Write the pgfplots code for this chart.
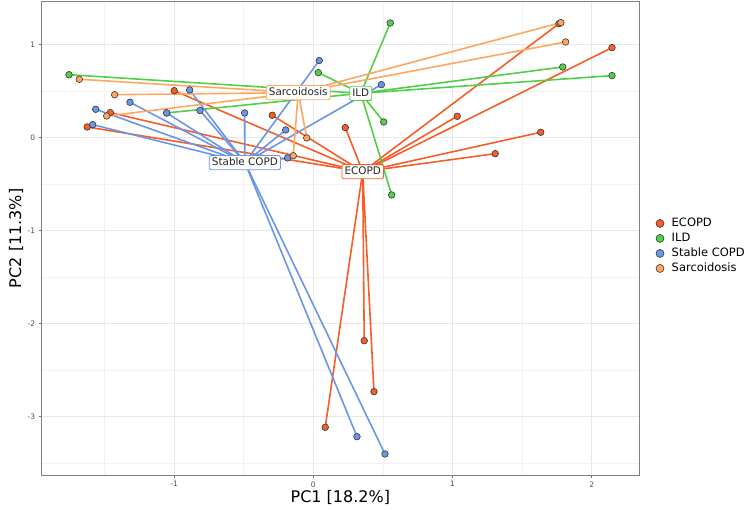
\documentclass[border=0pt]{standalone}
\usepackage{fontspec}
\setmainfont{DejaVu Sans}
\usepackage{pgfplots}
\pgfplotsset{compat=1.18}
\usepackage{pgfplotstable}
\definecolor{cE}{RGB}{248,93,40}
\definecolor{cI}{RGB}{82,206,72}
\definecolor{cS}{RGB}{106,150,232}
\definecolor{cO}{RGB}{255,166,96}
\definecolor{mk}{RGB}{55,55,55}
\definecolor{tk}{RGB}{77,77,77}

\pgfplotstableread{
x y
1.765 1.226
2.146 0.968
1.034 0.230
1.634 0.058
1.307 -0.172
0.230 0.108
-0.295 0.241
-0.999 0.505
-1.458 0.269
-1.624 0.115
0.366 -2.183
0.436 -2.731
0.086 -3.114
}\ecopd

\pgfplotstableread{
x y
-1.755 0.677
0.553 1.233
1.792 0.760
2.146 0.667
0.036 0.699
0.506 0.169
0.563 -0.616
-1.053 0.266
}\ild

\pgfplotstableread{
x y
-0.888 0.513
-1.317 0.381
-1.563 0.305
-1.585 0.140
-1.053 0.266
-0.814 0.292
-0.493 0.266
-0.198 0.083
-0.184 -0.218
0.043 0.830
0.489 0.570
0.314 -3.215
0.515 -3.401
}\stable

\pgfplotstableread{
x y
-1.681 0.628
-1.427 0.462
-1.484 0.233
-0.047 -0.003
-0.144 -0.194
1.779 1.237
1.813 1.029
}\sarc

\begin{document}
\begin{tikzpicture}[x=1pt,y=1pt]
\begin{axis}[
  at={(41.7pt,35pt)}, anchor=south west,
  scale only axis, width=597.3pt, height=473.3pt,
  xmin=-1.951, xmax=2.340, ymin=-3.627, ymax=1.462,
  clip=false,
  xtick={-1,0,1,2}, xticklabels={-1,0,1,2},
  ytick={-3,-2,-1,0,1}, yticklabels={-3,-2,-1,0,1},
  minor xtick={-1.5,-0.5,0.5,1.5},
  minor ytick={-3.5,-2.5,-1.5,-0.5,0.5},
  grid=both,
  major grid style={color=black!9, line width=0.6pt},
  minor grid style={color=black!5, line width=0.4pt},
  tick align=outside, xtick pos=left, ytick pos=left,
  major tick length=3pt, minor tick length=0pt,
  tick style={color=black!55, line width=0.6pt},
  axis line style={color=black!50, line width=0.9pt},
  ticklabel style={font=\fontsize{7.5}{9}\selectfont, text=tk},
  xlabel={PC1 [18.2\%]}, ylabel={PC2 [11.3\%]},
  every axis x label/.style={at={(axis description cs:0.5,0)}, anchor=center, yshift=-22pt, font=\fontsize{16}{18}\selectfont},
  every axis y label/.style={at={(axis description cs:0,0.5)}, anchor=center, rotate=90, yshift=25.7pt, font=\fontsize{16}{18}\selectfont},
  legend style={at={(axis description cs:1,0.5)}, anchor=west, xshift=17pt, yshift=-7.6pt,
    draw=none, fill=none, inner sep=0pt, outer sep=0pt, row sep=4pt,
    font=\fontsize{11.5}{13}\selectfont,
    nodes={inner sep=0pt, text height=8.5pt, text depth=2.5pt},
    /tikz/every odd column/.append style={column sep=7.7pt}},
  legend cell align=left,
  legend image code/.code={\draw[#1, mark size=4pt] plot coordinates {(0pt,0pt)};},
]
% segments to centroids
\addplot[forget plot, cE, line width=1.6pt, quiver={u={0.355-\thisrow{x}}, v={-0.366-\thisrow{y}}}] table[x=x,y=y] {\ecopd};
\addplot[forget plot, cI, line width=1.6pt, quiver={u={0.341-\thisrow{x}}, v={0.477-\thisrow{y}}}] table[x=x,y=y] {\ild};
\addplot[forget plot, cS, line width=1.6pt, quiver={u={-0.491-\thisrow{x}}, v={-0.269-\thisrow{y}}}] table[x=x,y=y] {\stable};
\addplot[forget plot, cO, line width=1.6pt, quiver={u={-0.108-\thisrow{x}}, v={0.484-\thisrow{y}}}] table[x=x,y=y] {\sarc};
% points
\addplot[only marks, mark=*, mark size=3.3pt, mark options={fill=cE, draw=mk, line width=0.6pt}] table[x=x,y=y] {\ecopd};
\addlegendentry{ECOPD}
\addplot[only marks, mark=*, mark size=3.3pt, mark options={fill=cI, draw=mk, line width=0.6pt}] table[x=x,y=y] {\ild};
\addlegendentry{ILD}
\addplot[only marks, mark=*, mark size=3.3pt, mark options={fill=cS, draw=mk, line width=0.6pt}] table[x=x,y=y] {\stable};
\addlegendentry{Stable COPD}
\addplot[only marks, mark=*, mark size=3.3pt, mark options={fill=cO, draw=mk, line width=0.6pt}] table[x=x,y=y] {\sarc};
\addlegendentry{Sarcoidosis}
% group labels
\tikzset{glab/.style={fill=white, line width=0.8pt, rounded corners=1.5pt, inner xsep=2.6pt, inner ysep=2pt,
  text height=7.8pt, text depth=2.4pt, text=black!85, font=\fontsize{10.4}{12}\selectfont}}
\node[glab, draw=cO] at (axis cs:-0.108,0.484) {Sarcoidosis};
\node[glab, draw=cI] at (axis cs:0.341,0.477) {ILD};
\node[glab, draw=cS] at (axis cs:-0.491,-0.269) {Stable COPD};
\node[glab, draw=cE] at (axis cs:0.355,-0.366) {ECOPD};
\end{axis}
\pgfresetboundingbox
\path[use as bounding box] (0pt,0pt) rectangle (749pt,510pt);
\end{tikzpicture}
\end{document}
